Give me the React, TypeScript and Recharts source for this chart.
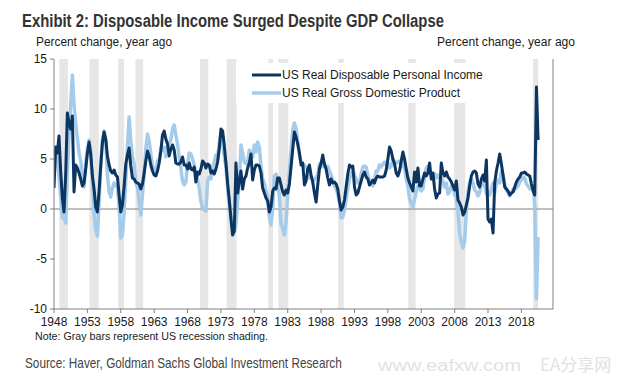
import { ComposedChart, Line, XAxis, YAxis, ReferenceArea, ReferenceLine } from "recharts";

// quarterly, % change year ago, 1948Q1 .. 2020Q3
const gdp = [
  4.2, 5.6, 5.0, 3.3, // 1948
  1.3, -0.9, -0.8, -1.4,
  3.6, 7.3, 10.6, 13.4, // 1950
  10.4, 8.6, 7.1, 5.6,
  4.8, 3.0, 2.2, 4.6,
  6.0, 6.9, 5.6, 2.8,
  -0.5, -2.1, -2.7, 0.6,
  4.5, 7.0, 7.8, 6.8, // 1955
  3.4, 1.8, 1.2, 2.1,
  2.6, 2.3, 2.4, 0.2,
  -2.9, -2.6, -0.3, 2.8,
  6.4, 9.2, 6.8, 5.2,
  4.5, 2.6, 2.2, 0.8, // 1960
  -0.6, 1.5, 3.6, 6.0,
  7.5, 6.8, 5.5, 4.3,
  3.9, 3.8, 4.8, 4.9,
  6.1, 5.9, 6.2, 5.2,
  6.0, 6.5, 6.9, 8.0, // 1965
  8.4, 7.4, 6.5, 5.2,
  4.1, 2.8, 2.4, 2.7,
  4.5, 5.6, 5.5, 5.0,
  4.4, 3.6, 3.0, 2.1,
  0.8, 0.1, -0.1, -0.2, // 1970
  2.8, 3.2, 3.0, 4.2,
  4.7, 5.4, 5.3, 6.6,
  7.6, 6.5, 5.2, 4.2,
  2.0, 0.6, -0.6, -1.9,
  -2.3, -1.6, 0.9, 2.5, // 1975
  6.4, 5.6, 4.7, 4.5,
  4.8, 5.9, 5.2, 5.2,
  6.4, 5.7, 6.7, 6.2,
  4.3, 3.0, 2.6, 1.8,
  1.3, -0.8, -1.6, 0.0, // 1980
  3.3, 3.5, 2.2, 1.3,
  -1.5, -2.0, -2.6, -1.3,
  1.5, 3.8, 5.9, 7.9,
  8.6, 8.0, 6.8, 5.5,
  4.7, 4.3, 4.4, 4.2, // 1985
  3.9, 3.1, 3.2, 2.8,
  2.9, 3.2, 3.4, 4.5,
  4.2, 4.7, 4.2, 4.2,
  4.3, 3.8, 3.4, 2.8,
  2.3, 2.0, 1.5, 0.6, // 1990
  -0.9, -0.8, -0.1, 1.0,
  2.1, 3.0, 3.5, 4.0,
  3.4, 3.0, 2.6, 2.6,
  3.5, 4.2, 4.3, 4.2,
  3.4, 2.7, 2.6, 2.3, // 1995
  2.8, 3.8, 3.8, 4.4,
  4.2, 4.5, 4.7, 4.4,
  4.6, 4.1, 4.3, 5.0,
  4.8, 4.6, 4.7, 4.8,
  4.2, 5.2, 4.1, 3.0, // 2000
  2.3, 1.0, 0.5, 0.2,
  1.0, 1.7, 2.3, 2.0,
  1.8, 2.0, 3.2, 4.1,
  4.3, 3.8, 3.6, 3.2,
  3.5, 3.1, 3.4, 3.1, // 2005
  3.2, 2.7, 2.2, 2.6,
  1.5, 1.7, 2.3, 2.3,
  1.4, 1.1, -0.2, -2.5,
  -3.3, -3.9, -3.2, -0.2,
  1.7, 2.8, 3.0, 2.6, // 2010
  1.9, 1.7, 1.3, 1.6,
  2.7, 2.4, 2.5, 1.5,
  1.6, 1.4, 2.0, 2.6,
  1.6, 2.5, 2.9, 2.6,
  3.8, 3.4, 2.4, 1.9, // 2015
  1.6, 1.3, 1.6, 2.0,
  1.9, 2.1, 2.3, 2.7,
  2.9, 3.2, 3.1, 2.5,
  2.3, 2.0, 2.1, 2.3,
  0.3, -9.0, -2.8, // 2020
];

const dpi = [
  2.1, 6.2, 5.6, 7.3, // 1948
  3.8, 1.1, -0.3, 3.5,
  9.6, 8.6, 8.0, 9.3, // 1950
  1.7, 4.4, 4.1, 3.6,
  3.0, 2.3, 2.6, 4.0,
  5.6, 6.7, 5.5, 3.3,
  2.0, 0.2, -0.3, 1.8,
  4.3, 6.6, 7.7, 7.0, // 1955
  5.3, 4.4, 3.8, 3.6,
  3.9, 3.4, 3.2, 1.4,
  -0.3, 0.4, 2.3, 4.5,
  5.4, 6.1, 4.3, 3.1,
  3.0, 2.7, 2.6, 2.5, // 1960
  2.0, 2.5, 3.6, 4.8,
  5.8, 5.3, 4.4, 3.8,
  3.4, 3.3, 3.8, 4.6,
  5.8, 7.4, 7.8, 7.0,
  6.5, 5.3, 6.0, 6.4, // 1965
  5.9, 4.6, 4.5, 4.5,
  4.7, 5.2, 4.4, 4.4,
  4.0, 4.6, 4.0, 3.9,
  4.2, 2.7, 3.7, 3.5,
  4.0, 4.8, 4.6, 4.1, // 1970
  4.5, 4.4, 3.6, 3.8,
  3.5, 4.0, 4.7, 6.0,
  8.0, 7.8, 6.4, 4.6,
  2.6, 0.9, -1.0, -2.6,
  -2.2, 4.6, 1.6, 2.8, // 1975
  3.8, 2.0, 3.0, 3.3,
  4.1, 4.6, 5.5, 2.9,
  3.9, 4.4, 4.4, 4.3,
  3.6, 2.1, 1.6, 1.1,
  0.8, -0.3, 0.2, 1.8, // 1980
  2.1, 2.0, 3.1, 3.1,
  2.4, 1.7, 1.4, 1.9,
  1.6, 2.5, 4.2, 6.0,
  7.7, 7.2, 6.5, 5.6,
  4.4, 4.6, 2.4, 2.8, // 1985
  4.0, 4.4, 3.4, 2.7,
  1.6, 0.7, 2.4, 4.0,
  4.6, 5.4, 4.5, 4.0,
  3.1, 2.4, 3.0, 2.6,
  2.7, 2.5, 2.0, 0.8, // 1990
  -0.1, 0.2, 0.9, 2.2,
  3.5, 4.4, 4.2, 4.3,
  2.2, 1.4, 1.6, 2.2,
  2.8, 3.4, 3.7, 3.2,
  3.0, 2.4, 2.6, 2.9, // 1995
  2.6, 3.1, 3.3, 3.2,
  3.2, 3.2, 3.3, 3.9,
  5.0, 6.2, 5.8, 5.0,
  4.5, 3.6, 3.3, 3.8,
  4.8, 5.7, 5.0, 4.0, // 2000
  3.1, 2.6, 2.2, 1.8,
  3.7, 2.7, 4.1, 2.3,
  2.3, 3.0, 3.6, 3.3,
  3.6, 4.6, 3.0, 3.6,
  2.0, 1.1, 1.5, 1.6, // 2005
  4.6, 3.6, 3.3, 3.7,
  3.2, 3.0, 2.7, 2.3,
  1.9, 2.8, 0.9, 0.6,
  0.2, -0.6, -0.3, 0.4,
  1.1, 2.3, 3.3, 3.7, // 2010
  3.8, 3.6, 2.5, 2.2,
  3.0, 3.4, 2.8, 4.9,
  -1.0, -1.3, -1.0, -2.4,
  2.6, 3.8, 4.6, 5.5,
  4.5, 3.4, 2.2, 2.0, // 2015
  1.8, 1.4, 1.6, 1.7,
  2.2, 2.7, 3.0, 3.2,
  3.6, 3.6, 3.7, 3.5,
  3.4, 3.3, 2.5, 1.8,
  1.4, 12.2, 6.9, // 2020
];

const recessions = [
  [1948.8, 1950.1], [1953.3, 1954.7], [1957.6, 1958.5], [1960.2, 1961.35],
  [1969.85, 1971.1], [1973.85, 1975.35], [1980.1, 1980.8], [1981.6, 1983.1],
  [1990.55, 1991.4], [2001.05, 2002.15], [2007.9, 2009.6], [2019.75, 2020.5],
];

const xTicks = [1948, 1953, 1958, 1963, 1968, 1973, 1978, 1983, 1988, 1993, 1998, 2003, 2008, 2013, 2018];
const yTicks = [-10, -5, 0, 5, 10, 15];

const data = dpi.map((v, i) => ({ t: 1948 + i / 4, dpi: v, gdp: gdp[i] }));

const DARK = "#0c3561";
const LIGHT = "#a4cbea";
const AXIS = "#808080";
const font = "'Liberation Sans', Arial, sans-serif";
const narrow = "'Liberation Sans Narrow', 'Arial Narrow', 'Liberation Sans', Arial, sans-serif";
const tickStyle = { fill: "#1a1a1a", fontSize: 12, fontFamily: font };

export default function App() {
  return (
    <div style={{ position: "absolute", left: 0, top: 0, width: 626, height: 383, background: "#fff" }}>
      <ComposedChart width={626} height={383} data={data} margin={{ top: 59, right: 33, bottom: 44, left: 14 }}>
        {recessions.map(([a, b]) => (
          <ReferenceArea key={a} yAxisId="left" x1={a} x2={b} y1={-10} y2={15} fill="#e6e6e6" fillOpacity={1} stroke="none" ifOverflow="hidden" />
        ))}
        <ReferenceLine yAxisId="left" y={0} stroke={AXIS} strokeWidth={1} />
        <XAxis
          dataKey="t"
          type="number"
          domain={[1948, 2022.73]}
          allowDataOverflow
          ticks={xTicks}
          interval={0}
          height={30}
          tickSize={4}
          tickMargin={4}
          stroke={AXIS}
          tick={tickStyle}
        />
        <YAxis yAxisId="left" domain={[-10, 15]} ticks={yTicks} width={40} tickSize={4} tickMargin={3} stroke={AXIS} tick={tickStyle} interval={0} />
        <YAxis yAxisId="right" orientation="right" domain={[-10, 15]} ticks={yTicks} width={40} tickSize={4} tickMargin={6} stroke={AXIS} tick={{ ...tickStyle, textAnchor: "start" }} interval={0} />
        <Line yAxisId="left" dataKey="gdp" type="linear" stroke={LIGHT} strokeWidth={3.5} dot={false} isAnimationActive={false} strokeLinejoin="round" />
        <Line yAxisId="left" dataKey="dpi" type="linear" stroke={DARK} strokeWidth={3} dot={false} isAnimationActive={false} strokeLinejoin="round" />
      </ComposedChart>

      <svg width={626} height={383} style={{ position: "absolute", left: 0, top: 0, pointerEvents: "none" }}>
        <text x={22} y={27} fontFamily={narrow} fontWeight="bold" fontSize={18} fill="#333" textLength={422} lengthAdjust="spacingAndGlyphs">
          Exhibit 2: Disposable Income Surged Despite GDP Collapse
        </text>
        <text x={36} y={46} fontFamily={font} fontSize={12} fill="#1a1a1a" textLength={136} lengthAdjust="spacingAndGlyphs">
          Percent change, year ago
        </text>
        <text x={437} y={46} fontFamily={font} fontSize={12} fill="#1a1a1a" textLength={138} lengthAdjust="spacingAndGlyphs">
          Percent change, year ago
        </text>

        <rect x={236} y={63} width={250} height={40} fill="#fff" />
        <line x1={252} y1={75} x2={281} y2={75} stroke={DARK} strokeWidth={3} />
        <text x={282} y={79} fontFamily={font} fontSize={12} fill="#1a1a1a">US Real Disposable Personal Income</text>
        <line x1={252} y1={93} x2={281} y2={93} stroke={LIGHT} strokeWidth={3.5} />
        <text x={282} y={97} fontFamily={font} fontSize={12} fill="#1a1a1a">US Real Gross Domestic Product</text>

        <text x={35} y={340} fontFamily={font} fontSize={11} fill="#1a1a1a" textLength={233} lengthAdjust="spacingAndGlyphs">
          Note: Gray bars represent US recession shading.
        </text>
        <text transform="translate(25,368) scale(0.8,1)" fontFamily={narrow} fontSize={14} fill="#444" textLength={396} lengthAdjust="spacingAndGlyphs">
          Source: Haver, Goldman Sachs Global Investment Research
        </text>
        <text x={378} y={371} fontFamily={font} fontSize={16} fill="#e2e2e2" textLength={143} lengthAdjust="spacingAndGlyphs">
          www.eafxw.com
        </text>
        <text x={540} y={371} fontFamily="'Noto Sans CJK SC', sans-serif" fontSize={17} fill="#e2e2e2">
          EA分享网
        </text>
      </svg>
    </div>
  );
}
